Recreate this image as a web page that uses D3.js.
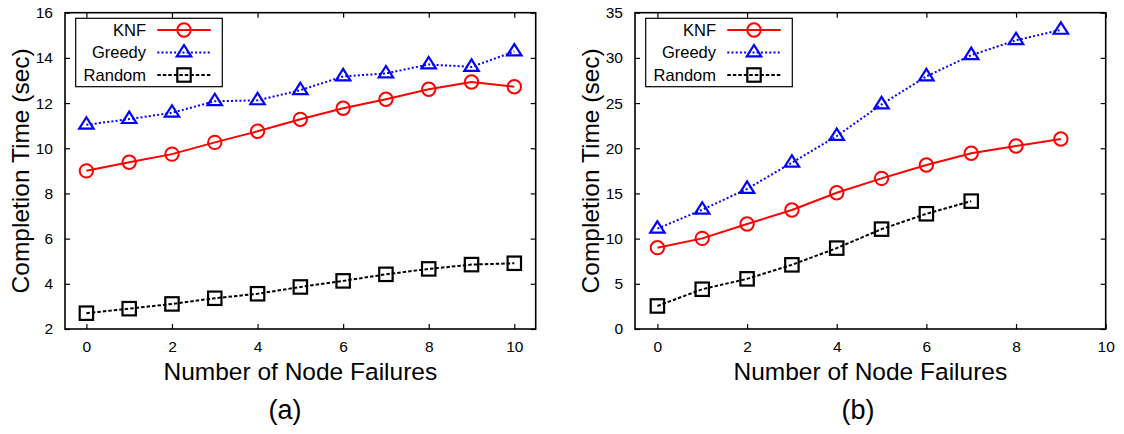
<!DOCTYPE html>
<html>
<head>
<meta charset="utf-8">
<script src="https://cdn.jsdelivr.net/npm/d3@7/dist/d3.min.js"></script>
<style>
  html, body { margin: 0; padding: 0; background: #fff; }
  svg { display: block; }
  text { font-family: "Liberation Sans", Arial, Helvetica, sans-serif; }
</style>
</head>
<body>
<svg id="chart" width="1124" height="434"></svg>
<script>
// ---------- Data ----------
const seriesNames = ["KNF", "Greedy", "Random"];

// Panel (a)
const failuresA = [0, 1, 2, 3, 4, 5, 6, 7, 8, 9, 10];
const knfA    = [9.0, 9.38, 9.74, 10.26, 10.75, 11.28, 11.77, 12.17, 12.61, 12.93, 12.72];
const greedyA = [11.04, 11.29, 11.57, 12.08, 12.12, 12.57, 13.18, 13.31, 13.71, 13.6, 14.28];
const randomA = [2.7, 2.9, 3.11, 3.36, 3.56, 3.86, 4.13, 4.42, 4.66, 4.85, 4.91];
const xTicksA = [0, 2, 4, 6, 8, 10];
const yTicksA = [2, 4, 6, 8, 10, 12, 14, 16];

// Panel (b)
const failuresB = [0, 1, 2, 3, 4, 5, 6, 7, 8, 9];
const knfB    = [9.0, 10.03, 11.62, 13.17, 15.08, 16.67, 18.15, 19.44, 20.25, 21.02];
const greedyB = [11.1, 13.2, 15.5, 18.4, 21.35, 24.85, 27.95, 30.3, 31.95, 33.1];
const randomB = [2.55, 4.4, 5.55, 7.1, 8.95, 11.05, 12.75, 14.15];
const xTicksB = [0, 2, 4, 6, 8, 10];
const yTicksB = [0, 5, 10, 15, 20, 25, 30, 35];

const xTitle = "Number of Node Failures";
const yTitle = "Completion Time (sec)";
const captions = ["(a)", "(b)"];

// ---------- Styles ----------
const styles = {
  KNF:    { color: "#ff0000", dash: null,  marker: "circle" },
  Greedy: { color: "#0000ff", dash: "2,2.2", marker: "triangle" },
  Random: { color: "#000000", dash: "3.5,2", marker: "square" }
};

const panels = [
  { left: 65, right: 535.7, top: 12.7, bottom: 329, xDomain: [-0.5, 10.5], yDomain: [2, 16],
    xTicks: xTicksA, yTicks: yTicksA, caption: captions[0], captionX: 285, yTitleX: 20, legendX: 75.7,
    series: [ { name: "KNF", x: failuresA, y: knfA },
              { name: "Greedy", x: failuresA, y: greedyA },
              { name: "Random", x: failuresA, y: randomA } ] },
  { left: 635, right: 1105.7, top: 12.7, bottom: 329, xDomain: [-0.5, 10], yDomain: [0, 35],
    xTicks: xTicksB, yTicks: yTicksB, caption: captions[1], captionX: 858, yTitleX: 590, legendX: 645.7,
    series: [ { name: "KNF", x: failuresB, y: knfB },
              { name: "Greedy", x: failuresB, y: greedyB },
              { name: "Random", x: failuresB.slice(0, randomB.length), y: randomB } ] }
];

const svg = d3.select("#chart");

function drawMarker(g, type, cx, cy, color) {
  if (type === "circle") {
    g.append("circle").attr("cx", cx).attr("cy", cy).attr("r", 6.7)
      .attr("fill", "none").attr("stroke", color).attr("stroke-width", 2);
  } else if (type === "triangle") {
    const p = [[cx, cy - 7.5], [cx - 7.2, cy + 3.9], [cx + 7.2, cy + 3.9]];
    g.append("path").attr("d", "M" + p.map(d => d.join(",")).join("L") + "Z")
      .attr("fill", "none").attr("stroke", color).attr("stroke-width", 2.2)
      .attr("stroke-linejoin", "miter");
  } else {
    g.append("rect").attr("x", cx - 6.7).attr("y", cy - 6.7).attr("width", 13.4).attr("height", 13.4)
      .attr("fill", "none").attr("stroke", color).attr("stroke-width", 2.2);
  }
}

panels.forEach(p => {
  const x = d3.scaleLinear().domain(p.xDomain).range([p.left, p.right]);
  const y = d3.scaleLinear().domain(p.yDomain).range([p.bottom, p.top]);
  const g = svg.append("g");
  const tickLen = 5;

  // axes
  const bottomAxis = d3.axisBottom(x).tickValues(p.xTicks).tickSizeInner(-tickLen).tickSizeOuter(0).tickPadding(12).tickFormat(d3.format("d"));
  const leftAxis = d3.axisLeft(y).tickValues(p.yTicks).tickSizeInner(-tickLen).tickSizeOuter(0).tickPadding(12).tickFormat(d3.format("d"));
  const topAxis = d3.axisTop(x).tickValues(p.xTicks).tickSizeInner(-tickLen).tickSizeOuter(0).tickFormat("");
  const rightAxis = d3.axisRight(y).tickValues(p.yTicks).tickSizeInner(-tickLen).tickSizeOuter(0).tickFormat("");

  const styleAxis = a => {
    a.select(".domain").remove();
    a.selectAll("line").attr("stroke", "#000").attr("stroke-width", 1.2);
    a.selectAll("text").attr("fill", "#000").attr("font-size", 15.5)
      .attr("font-family", "'Liberation Sans', Arial, sans-serif");
  };
  g.append("g").attr("transform", `translate(0,${p.bottom})`).call(bottomAxis).call(styleAxis);
  g.append("g").attr("transform", `translate(${p.left},0)`).call(leftAxis).call(styleAxis);
  g.append("g").attr("transform", `translate(0,${p.top})`).call(topAxis).call(styleAxis);
  g.append("g").attr("transform", `translate(${p.right},0)`).call(rightAxis).call(styleAxis);

  // series
  const line = d3.line().x(d => x(d[0])).y(d => y(d[1]));
  p.series.forEach(s => {
    const st = styles[s.name];
    const pts = s.x.map((xv, i) => [xv, s.y[i]]);
    g.append("path").datum(pts).attr("d", line).attr("fill", "none")
      .attr("stroke", st.color).attr("stroke-width", 2)
      .attr("stroke-dasharray", st.dash);
    pts.forEach(d => drawMarker(g, st.marker, x(d[0]), y(d[1]), st.color));
  });

  // frame
  g.append("rect").attr("x", p.left).attr("y", p.top)
    .attr("width", p.right - p.left).attr("height", p.bottom - p.top)
    .attr("fill", "none").attr("stroke", "#000").attr("stroke-width", 1.6);

  // legend
  const lg = g.append("g").attr("transform", `translate(${p.legendX},18.3)`);
  lg.append("rect").attr("x", 0).attr("y", 0).attr("width", 146.6).attr("height", 68.4)
    .attr("fill", "#fff").attr("stroke", "#000").attr("stroke-width", 1.2);
  seriesNames.forEach((name, i) => {
    const st = styles[name];
    const ry = 11.7 + i * 22.5;
    lg.append("text").attr("x", 70.3).attr("y", ry).attr("dy", "0.35em")
      .attr("text-anchor", "end").attr("font-size", 16.5).attr("fill", "#000").text(name);
    lg.append("line").attr("x1", 81.6).attr("x2", 135).attr("y1", ry).attr("y2", ry)
      .attr("stroke", st.color).attr("stroke-width", 2).attr("stroke-dasharray", st.dash);
    drawMarker(lg, st.marker, 108.3, ry, st.color);
  });

  // titles
  g.append("text").attr("x", (p.left + p.right) / 2).attr("y", 380)
    .attr("text-anchor", "middle").attr("font-size", 24.5).attr("fill", "#000").text(xTitle);
  g.append("text").attr("transform", `translate(${p.yTitleX},${(p.top + p.bottom) / 2}) rotate(-90)`)
    .attr("text-anchor", "middle").attr("dy", "0.35em").attr("font-size", 24.5).attr("fill", "#000").text(yTitle);
  g.append("text").attr("x", p.captionX).attr("y", 419)
    .attr("text-anchor", "middle").attr("font-size", 27)
    .attr("font-family", "'Liberation Serif', 'DejaVu Serif', serif").attr("fill", "#000").text(p.caption);
});
</script>
</body>
</html>
